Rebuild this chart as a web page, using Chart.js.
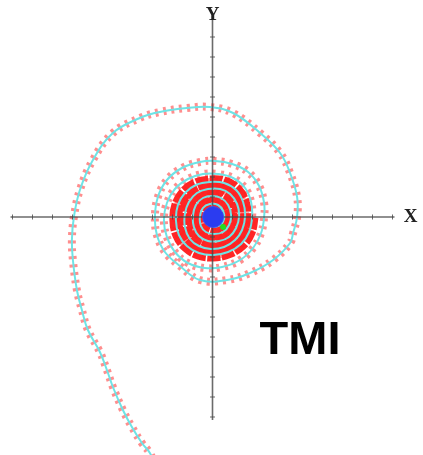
<!DOCTYPE html>
<html>
<head>
<meta charset="utf-8">
<script src="https://cdn.jsdelivr.net/npm/chart.js@4.4.1/dist/chart.umd.min.js"></script>
<style>
  html, body { margin: 0; padding: 0; background: #fff; }
  #phase { display: block; }
</style>
</head>
<body>
<canvas id="phase" width="423" height="455"></canvas>
<script>
// trajectory (phase plane units, one tick = 1)
const trajX = [
  -2.88, -3.13, -3.53, -4.03, -4.48, -4.98, -5.28, -5.63, -6.23, -6.53,
  -6.78, -6.98, -7.03, -6.93, -6.63, -5.98, -4.98, -3.63, -2.63, -1.28,
  -0.13, 1.03, 2.38, 3.38, 3.88, 4.23, 4.23, 4.03, 3.88, 3.03,
  1.88, 0.73, -0.63, -1.63, -2.38, -2.78, -2.88, -2.73, -2.28, -1.53,
  -0.63, 0.13, 0.98, 1.78, 2.33, 2.58, 2.58, 2.43, 2.03, 1.38,
  0.48, -0.38, -1.23, -1.88, -2.28, -2.43, -2.28, -1.88, -1.23, -0.48,
  0.28, 1.03, 1.63, 1.93, 1.98, 1.83, 1.43, 0.78, 0.03, -0.68,
  -1.28, -1.68, -1.83, -1.73, -1.38, -0.83, -0.13, 0.58, 1.18, 1.53,
  1.63, 1.48, 1.13, 0.58, -0.08, -0.68, -1.13, -1.38, -1.38, -1.18,
  -0.78, -0.23, 0.38, 0.88, 1.23, 1.33, 1.18, 0.83, 0.33, -0.23,
  -0.68, -0.93, -0.98, -0.83, -0.48, -0.03, 0.43, 0.78, 0.93, 0.83,
  0.53, 0.08, -0.33, -0.58, -0.63, -0.48, -0.13, 0.28, 0.53, 0.58,
  0.38, 0.08
];
const trajY = [
  -12.4, -11.8, -11.3, -10.5, -9.65, -8.5, -7.65, -6.75, -5.65, -4.65,
  -3.65, -2.15, -1.15, 0, 1.35, 2.85, 4.2, 4.95, 5.25, 5.45,
  5.5, 5.2, 4.2, 3.2, 2.2, 1.0, 0, -0.8, -1.3, -2.15,
  -2.8, -3.15, -3.15, -2.45, -1.75, -0.9, 0, 1.0, 1.85, 2.45,
  2.75, 2.8, 2.65, 2.25, 1.55, 0.7, 0, -0.8, -1.55, -2.15,
  -2.5, -2.55, -2.3, -1.75, -1.0, -0.15, 0.7, 1.4, 1.9, 2.15,
  2.15, 1.95, 1.45, 0.75, 0, -0.75, -1.35, -1.75, -1.9, -1.8,
  -1.45, -0.9, -0.15, 0.6, 1.2, 1.6, 1.75, 1.7, 1.35, 0.75,
  0.05, -0.65, -1.15, -1.5, -1.6, -1.45, -1.1, -0.5, 0.15, 0.75,
  1.2, 1.4, 1.4, 1.15, 0.65, 0.05, -0.55, -1.0, -1.2, -1.2,
  -0.95, -0.5, 0.05, 0.6, 0.95, 1.05, 0.95, 0.6, 0.1, -0.4,
  -0.75, -0.85, -0.75, -0.45, 0, 0.45, 0.65, 0.6, 0.3, -0.1,
  -0.4, -0.5
];
// index where the tightly wound part of the spiral begins
const coreStart = 64;

// equilibrium and end point
const focusPt = [0.03, 0];
const endPt = [0.53, -0.5];

// axis ticks
const xTicks = [-10, -9, -8, -7, -6, -5, -4, -3, -2, -1, 1, 2, 3, 4, 5, 6, 7, 8, 9];
const yTicks = [-10, -9, -8, -7, -6, -5, -4, -3, -2, -1, 1, 2, 3, 4, 5, 6, 7, 8, 9];
const xAxisEnds = [-10.1, 9.1];
const yAxisEnds = [-10.15, 9.85];

const trajPts = trajX.map((x, i) => ({ x: x, y: trajY[i] }));
const corePts = trajPts.slice(coreStart);

const axesPlugin = {
  id: 'phaseAxes',
  afterDatasetDraw(chart, args) {
    if (args.index !== 2) return;
    const ctx = chart.ctx;
    const xs = chart.scales.x, ys = chart.scales.y;
    const x0 = xs.getPixelForValue(0), y0 = ys.getPixelForValue(0);
    ctx.save();
    ctx.strokeStyle = 'rgba(70,70,70,0.8)';
    ctx.lineWidth = 1.6;
    ctx.beginPath();
    ctx.moveTo(xs.getPixelForValue(xAxisEnds[0]), y0);
    ctx.lineTo(xs.getPixelForValue(xAxisEnds[1]), y0);
    ctx.moveTo(x0, ys.getPixelForValue(yAxisEnds[0]));
    ctx.lineTo(x0, ys.getPixelForValue(yAxisEnds[1]));
    ctx.stroke();
    ctx.lineWidth = 1;
    ctx.beginPath();
    xTicks.forEach(t => {
      const px = xs.getPixelForValue(t);
      ctx.moveTo(px, y0 - 2.5);
      ctx.lineTo(px, y0 + 2.5);
    });
    yTicks.forEach(t => {
      const py = ys.getPixelForValue(t);
      ctx.moveTo(x0 - 2.5, py);
      ctx.lineTo(x0 + 2.5, py);
    });
    ctx.stroke();
    ctx.restore();
  },
  afterDraw(chart) {
    const ctx = chart.ctx;
    const xs = chart.scales.x, ys = chart.scales.y;
    ctx.save();
    ctx.fillStyle = '#222';
    ctx.textAlign = 'center';
    ctx.textBaseline = 'middle';
    ctx.font = 'bold 19px "Liberation Serif", "DejaVu Serif", serif';
    ctx.fillText('X', xs.getPixelForValue(9.9), ys.getPixelForValue(0));
    ctx.fillText('Y', xs.getPixelForValue(0), ys.getPixelForValue(10.1));
    ctx.fillStyle = '#000';
    ctx.font = 'bold 47px "Liberation Sans", Arial, sans-serif';
    ctx.fillText('TMI', xs.getPixelForValue(4.375), ys.getPixelForValue(-6.2));
    ctx.restore();
  }
};

new Chart(document.getElementById('phase'), {
  type: 'scatter',
  data: {
    datasets: [
      {
        label: 'end',
        data: [{ x: endPt[0], y: endPt[1] }],
        pointRadius: 3,
        pointBackgroundColor: '#22dd22',
        pointBorderWidth: 0
      },
      {
        label: 'focus',
        data: [{ x: focusPt[0], y: focusPt[1] }],
        pointRadius: 10.5,
        pointBackgroundColor: '#2b3cf0',
        pointBorderColor: 'rgba(60,80,240,0.9)',
        pointBorderWidth: 1
      },
      {
        label: 'trajectory',
        data: trajPts,
        showLine: true,
        borderColor: 'rgba(110,228,230,1)',
        borderWidth: 2,
        tension: 0.4,
        pointRadius: 0
      },
      {
        label: 'direction',
        data: trajPts,
        showLine: true,
        borderColor: 'rgba(255,30,30,0.5)',
        borderWidth: 8,
        borderDash: [3, 5],
        tension: 0.4,
        pointRadius: 0
      },
      {
        label: 'core',
        data: corePts,
        showLine: true,
        borderColor: 'rgba(255,0,0,0.85)',
        borderWidth: 13,
        borderDash: [12, 1.5],
        tension: 0.4,
        pointRadius: 0
      }
    ]
  },
  options: {
    responsive: false,
    animation: false,
    devicePixelRatio: 1,
    layout: { padding: 0, autoPadding: false },
    plugins: {
      legend: { display: false },
      tooltip: { enabled: false }
    },
    scales: {
      x: { type: 'linear', display: false, bounds: 'data', min: -10.625, max: 10.525 },
      y: { type: 'linear', display: false, bounds: 'data', min: -11.9, max: 10.85 }
    }
  },
  plugins: [axesPlugin]
});
</script>
</body>
</html>
